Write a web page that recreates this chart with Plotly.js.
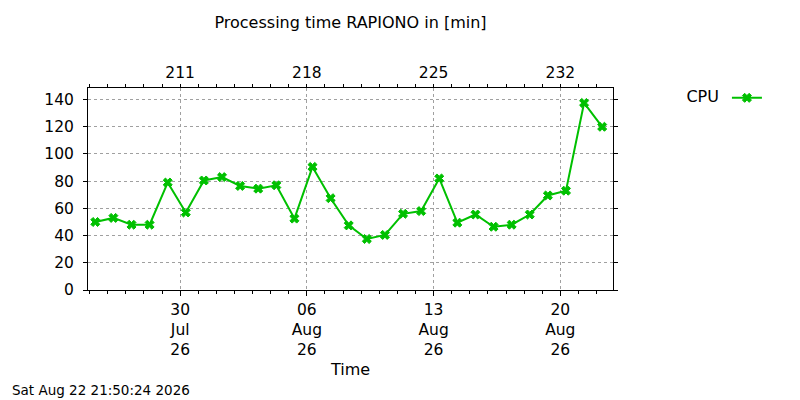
<!DOCTYPE html>
<html>
<head>
<meta charset="utf-8">
<script src="https://cdn.plot.ly/plotly-3.0.1.min.js"></script>
<style>
  html, body { margin: 0; padding: 0; background: #fff; }
  #chart { width: 800px; height: 400px; }
</style>
</head>
<body>
<div id="chart"></div>
<script>
// one sample per day
const days = [
  '2026-07-25 07:30', '2026-07-26 07:30', '2026-07-27 07:30', '2026-07-28 07:30',
  '2026-07-29 07:30', '2026-07-30 07:30', '2026-07-31 07:30', '2026-08-01 07:30',
  '2026-08-02 07:30', '2026-08-03 07:30', '2026-08-04 07:30', '2026-08-05 07:30',
  '2026-08-06 07:30', '2026-08-07 07:30', '2026-08-08 07:30', '2026-08-09 07:30',
  '2026-08-10 07:30', '2026-08-11 07:30', '2026-08-12 07:30', '2026-08-13 07:30',
  '2026-08-14 07:30', '2026-08-15 07:30', '2026-08-16 07:30', '2026-08-17 07:30',
  '2026-08-18 07:30', '2026-08-19 07:30', '2026-08-20 07:30', '2026-08-21 07:30',
  '2026-08-22 07:30'
];
const cpu = [
  50, 53, 48, 48, 79, 57, 80.5, 83, 76.5, 74.5, 77, 52.5, 90.5, 67.5, 47.5,
  37.5, 40.5, 56, 58, 82, 49.5, 55.5, 46.5, 48, 55.5, 69.5, 73, 137.5, 120
];

// weekly ticks: dates below, day of year on top
const tickDates = ['2026-07-30', '2026-08-06', '2026-08-13', '2026-08-20'];
const tickText = ['30<br>Jul<br>26', '06<br>Aug<br>26', '13<br>Aug<br>26', '20<br>Aug<br>26'];
const dayOfYear = ['211', '218', '225', '232'];

const timeRange = ['2026-07-24 21:50:24', '2026-08-22 21:50:24'];
const stamp = 'Sat Aug 22 21:50:24 2026';

const green = '#00c000';
const font = 'DejaVu Sans, sans-serif';

const traces = [{
  x: days,
  y: cpu,
  name: '',
  type: 'scatter',
  mode: 'lines+markers',
  line: { color: green, width: 2 },
  marker: { symbol: 'x', size: 8, color: green, line: { color: green, width: 1 } },
  hoverinfo: 'skip'
}];

const minor = {
  dtick: 86400000,
  tick0: '2026-07-24',
  ticks: 'outside',
  ticklen: 3,
  tickcolor: '#000',
  showgrid: false
};

const layout = {
  width: 800,
  height: 400,
  paper_bgcolor: '#fff',
  plot_bgcolor: '#fff',
  font: { family: font, size: 15.5, color: '#000' },
  margin: { l: 88, r: 187, t: 88, b: 110 },
  title: {
    text: 'Processing time RAPIONO in [min]',
    font: { size: 16 },
    x: 0.5, xref: 'paper', xanchor: 'center',
    y: 0.943, yref: 'container', yanchor: 'middle'
  },
  showlegend: true,
  legend: {
    x: 1.136, xanchor: 'left',
    y: 1.035, yanchor: 'top',
    bgcolor: 'rgba(0,0,0,0)',
    title: { text: 'CPU', side: 'left', font: { size: 16 } },
    font: { size: 16 }
  },
  xaxis: {
    type: 'date',
    range: timeRange,
    tickmode: 'array',
    tickvals: tickDates,
    ticktext: tickText,
    ticks: 'outside',
    ticklen: 5,
    tickcolor: '#000',
    showline: true,
    linecolor: '#000',
    linewidth: 1,
    mirror: false,
    showgrid: true,
    gridcolor: '#a0a0a0',
    griddash: 'dot',
    gridwidth: 1,
    zeroline: false,
    minor: minor,
    title: { text: 'Time', standoff: 5, font: { size: 16 } }
  },
  xaxis2: {
    type: 'date',
    overlaying: 'x',
    side: 'top',
    range: timeRange,
    tickmode: 'array',
    tickvals: tickDates,
    ticktext: dayOfYear,
    ticks: 'outside',
    ticklen: 3,
    tickcolor: '#000',
    showline: true,
    linecolor: '#000',
    linewidth: 1,
    showgrid: false,
    zeroline: false,
    minor: minor
  },
  yaxis: {
    range: [0, 148.5],
    dtick: 20,
    tick0: 0,
    ticks: 'outside',
    ticklen: 4,
    tickcolor: '#000',
    showline: true,
    linecolor: '#000',
    linewidth: 1,
    mirror: 'ticks',
    showgrid: true,
    gridcolor: '#a0a0a0',
    griddash: 'dot',
    gridwidth: 1,
    zeroline: false,
    ticklabelstandoff: 6
  },
  annotations: [{
    text: stamp,
    xref: 'paper', yref: 'paper',
    x: -0.149, y: -0.495,
    xanchor: 'left', yanchor: 'middle',
    showarrow: false,
    font: { size: 13.5 }
  }]
};

// invisible twin so the top axis is drawn
traces.push({
  x: [timeRange[0]],
  y: [null],
  xaxis: 'x2',
  showlegend: false,
  hoverinfo: 'skip'
});

Plotly.newPlot('chart', traces, layout, { staticPlot: true, displayModeBar: false });
</script>
</body>
</html>
